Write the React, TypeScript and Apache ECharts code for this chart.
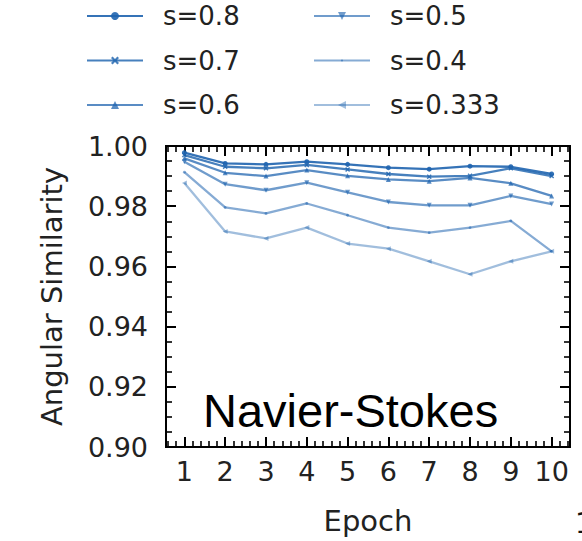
import React, { useEffect, useRef } from "react";
import * as echarts from "echarts";

const epochs = [1, 2, 3, 4, 5, 6, 7, 8, 9, 10];
const seriesNames = ["s=0.8", "s=0.7", "s=0.6", "s=0.5", "s=0.4", "s=0.333"];
const s08 = [0.9978, 0.9942, 0.9939, 0.9948, 0.9939, 0.9928, 0.9923, 0.9933, 0.9931, 0.9907];
const s07 = [0.997, 0.9931, 0.9926, 0.9937, 0.9922, 0.9907, 0.9898, 0.9901, 0.9926, 0.99];
const s06 = [0.9959, 0.9911, 0.99, 0.992, 0.9901, 0.9889, 0.9883, 0.9894, 0.9876, 0.9834];
const s05 = [0.9948, 0.9873, 0.9853, 0.9878, 0.9846, 0.9814, 0.9803, 0.9803, 0.9834, 0.9807];
const s04 = [0.9913, 0.9796, 0.9776, 0.9809, 0.977, 0.9729, 0.9712, 0.9729, 0.9751, 0.965];
const s0333 = [0.9877, 0.9716, 0.9693, 0.9729, 0.9676, 0.9659, 0.9617, 0.9574, 0.9617, 0.965];
const yTicks = [0.9, 0.92, 0.94, 0.96, 0.98, 1.0];

const allValues = [s08, s07, s06, s05, s04, s0333];
const alphas = [0.9, 0.82, 0.74, 0.64, 0.54, 0.42];
const symbols = [
  "circle",
  "path://M2,0L5,3L8,0L10,2L7,5L10,8L8,10L5,7L2,10L0,8L3,5L0,2Z",
  "triangle",
  "triangle",
  "path://M0,0M10,10M3.6,5a1.4,1.4 0 1,0 2.8,0a1.4,1.4 0 1,0 -2.8,0Z",
  "triangle",
];
const rotates = [0, 0, 0, 180, 0, 90];
const symSizes = [5, 5, 5, 5, 10, 5];

const minorX: number[] = [];
for (let i = 3; i <= 52; i++) {
  const v = Math.round(i * 2) / 10;
  if (Math.abs(v - Math.round(v)) > 1e-6) minorX.push(v);
}
const minorY: number[] = [];
for (let i = 181; i < 200; i++) {
  const v = Math.round(i * 5) / 1000;
  if (i % 4 !== 0) minorY.push(v);
}

const FONT = "DejaVu Sans";

export default function App() {
  const ref = useRef<HTMLDivElement>(null);
  useEffect(() => {
    if (!ref.current) return;
    const chart = echarts.init(ref.current, null, { renderer: "svg" });
    const base = (a: number) => `rgba(31,100,175,${a})`;
    const axisLine = { show: true, onZero: false, lineStyle: { color: "#000", width: 2 } };
    const xCommon = { type: "value", min: 0.55, max: 10.45, splitLine: { show: false }, axisLine };
    const yCommon = { type: "value", min: 0.9, max: 1.0, splitLine: { show: false }, axisLine };
    const majorTick = (vals: number[]) => ({
      show: true,
      inside: true,
      length: 10,
      customValues: vals,
      lineStyle: { color: "#000", width: 2 },
    });
    const minorTick = (vals: number[]) => ({
      show: true,
      inside: true,
      length: 6,
      customValues: vals,
      lineStyle: { color: "#000", width: 1.6 },
    });
    const legendCommon = {
      orient: "vertical",
      top: 3,
      padding: 0,
      itemWidth: 56,
      itemHeight: 10,
      itemGap: 18.5,
      textStyle: { fontSize: 26, fontFamily: FONT, color: "#222", padding: [0, 0, 0, 15] },
    };
    chart.setOption({
      animation: false,
      textStyle: { fontFamily: FONT },
      grid: { left: 166, right: 12, top: 146, bottom: 94 },
      legend: [
        { ...legendCommon, left: 86, data: seriesNames.slice(0, 3) },
        { ...legendCommon, left: 313, data: seriesNames.slice(3) },
      ],
      xAxis: [
        {
          ...xCommon,
          position: "bottom",
          axisTick: majorTick(epochs),
          axisLabel: { show: true, customValues: epochs, margin: 11, fontSize: 27, fontFamily: FONT, color: "#222" },
          name: "Epoch",
          nameLocation: "middle",
          nameGap: 59,
          nameTextStyle: { fontSize: 29, fontFamily: FONT, color: "#222" },
        },
        { ...xCommon, position: "bottom", axisTick: minorTick(minorX), axisLabel: { show: false } },
        { ...xCommon, position: "top", axisTick: majorTick(epochs), axisLabel: { show: false } },
        { ...xCommon, position: "top", axisTick: minorTick(minorX), axisLabel: { show: false } },
      ],
      yAxis: [
        {
          ...yCommon,
          position: "left",
          axisTick: majorTick(yTicks),
          axisLabel: {
            show: true,
            customValues: yTicks,
            margin: 18,
            fontSize: 27,
            fontFamily: FONT,
            color: "#222",
            formatter: (v: number) => v.toFixed(2),
          },
          name: "Angular Similarity",
          nameLocation: "middle",
          nameGap: 100,
          nameTextStyle: { fontSize: 29, fontFamily: FONT, color: "#222" },
        },
        { ...yCommon, position: "left", axisTick: minorTick(minorY), axisLabel: { show: false } },
        { ...yCommon, position: "right", axisTick: majorTick(yTicks), axisLabel: { show: false } },
        { ...yCommon, position: "right", axisTick: minorTick(minorY), axisLabel: { show: false } },
      ],
      graphic: [
        {
          type: "text",
          left: 203,
          top: 387,
          style: { text: "Navier-Stokes", font: '47px "Liberation Sans"', fill: "#000" },
        },
        {
          type: "text",
          left: 575,
          top: 509,
          style: { text: "1", font: '28px "DejaVu Sans"', fill: "#111" },
        },
      ],
      series: allValues.map((vals, i) => ({
        type: "line",
        name: seriesNames[i],
        xAxisIndex: 0,
        yAxisIndex: 0,
        data: epochs.map((e, j) => [e, vals[j]]),
        symbol: symbols[i],
        symbolRotate: rotates[i],
        symbolSize: symSizes[i],
        showSymbol: true,
        lineStyle: { color: base(alphas[i]), width: 2.3 },
        itemStyle: { color: base(alphas[i]) },
        z: 10 - i,
      })),
    });
    return () => chart.dispose();
  }, []);
  return (
    <div
      ref={ref}
      style={{ position: "absolute", left: 0, top: 0, width: 582, height: 541 }}
    />
  );
}
